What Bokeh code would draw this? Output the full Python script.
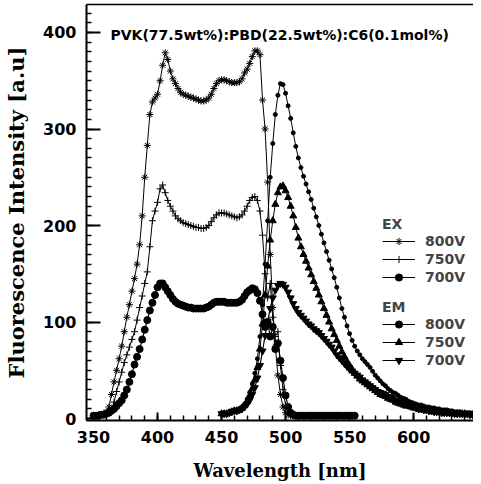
from bokeh.plotting import figure
from bokeh.models import (Range1d, Legend, LegendItem, Label, LinearAxis,
                          FixedTicker, SingleIntervalTicker)
from bokeh.embed import file_html
from bokeh.resources import INLINE

# ---------------- data ----------------
ex_wl = list(range(350, 511, 2))
ex_800 = [3, 3, 4, 4, 5, 7, 12, 25, 38, 50,
          62, 75, 90, 105, 118, 132, 145, 160, 180, 210,
          250, 283, 315, 328, 332, 336, 350, 366, 379, 372,
          360, 352, 347, 342, 338, 336, 335, 334, 333, 332,
          331, 330, 329, 329, 330, 332, 336, 342, 347, 350,
          351, 351, 350, 349, 348, 348, 348, 349, 352, 358,
          362, 368, 375, 381, 381, 377, 330, 300, 245, 170,
          115, 75, 45, 25, 12, 6, 4, 3, 3, 3,
          3]

ex750_wl = list(range(350, 507, 2))
ex_750 = [3, 3, 3, 4, 4, 5, 7, 10, 17, 28,
          38, 48, 58, 66, 74, 82, 90, 102, 115, 127,
          140, 152, 178, 205, 215, 224, 238, 242, 234, 226,
          220, 215, 210, 207, 205, 203, 202, 201, 200, 199,
          198, 198, 197, 197, 198, 200, 204, 208, 211, 213,
          213, 213, 212, 211, 210, 209, 208, 209, 211, 215,
          220, 226, 229, 230, 226, 215, 190, 150, 125, 140,
          105, 85, 90, 55, 30, 14, 7, 4, 3]

ex700_wl = list(range(350, 555, 2))
ex_700 = [3, 3, 3, 4, 4, 5, 6, 8, 10, 13,
          16, 19, 24, 30, 38, 46, 56, 64, 72, 82,
          92, 102, 112, 120, 128, 136, 140, 140, 136, 132,
          128, 124, 121, 119, 118, 117, 116, 115, 115, 114,
          114, 114, 114, 114, 115, 116, 118, 120, 121, 121,
          121, 121, 120, 120, 120, 120, 120, 121, 123, 127,
          131, 133, 135, 134, 130, 122, 108, 95, 100, 85,
          95, 72, 78, 60, 42, 24, 12, 6, 4, 3,
          3, 3, 3, 3, 3, 3, 3, 3, 3, 3,
          3, 3, 3, 3, 3, 3, 3, 3, 3, 3,
          3, 3, 3]

em_wl = list(range(450, 651, 2))
em_800 = [5, 5, 5, 6, 7, 9, 9, 10, 12, 15,
          20, 27, 36, 47, 62, 85, 118, 160, 205, 250,
          285, 315, 335, 347, 346, 337, 324, 311, 296, 282,
          270, 260, 251, 243, 235, 227, 218, 209, 200, 191,
          182, 173, 164, 155, 146, 136, 125, 114, 105, 96,
          88, 81, 75, 70, 66, 62, 59, 56, 53, 49,
          45, 42, 39, 36, 34, 31, 29, 27, 26, 24,
          22, 21, 20, 18, 17, 16, 15, 14, 14, 13,
          12, 12, 11, 11, 10, 10, 9, 9, 9, 8,
          8, 7, 7, 7, 6, 6, 6, 6, 5, 5,
          5]
em_750 = [5, 5, 5, 6, 7, 8, 8, 9, 11, 14,
          18, 24, 31, 40, 53, 72, 98, 128, 158, 185,
          205, 222, 234, 240, 241, 236, 229, 220, 210, 198,
          187, 178, 170, 163, 156, 149, 142, 135, 128, 121,
          114, 107, 100, 93, 87, 81, 75, 69, 64, 59,
          55, 51, 47, 44, 41, 39, 37, 35, 33, 31,
          29, 27, 25, 24, 23, 21, 20, 19, 17, 16,
          15, 14, 13, 13, 12, 11, 11, 10, 10, 9,
          9, 8, 8, 7, 7, 7, 6, 6, 6, 6,
          5, 5, 5, 5, 5, 5, 4, 4, 4, 4,
          4]
em_700 = [5, 5, 5, 6, 7, 8, 8, 9, 10, 12,
          15, 19, 25, 32, 42, 55, 70, 86, 101, 114,
          125, 133, 138, 140, 139, 136, 131, 125, 119, 114,
          110, 107, 104, 101, 98, 96, 93, 91, 89, 86,
          83, 80, 77, 74, 70, 66, 63, 60, 57, 54,
          51, 49, 47, 45, 43, 40, 38, 36, 34, 32,
          30, 28, 27, 26, 25, 23, 22, 21, 19, 18,
          17, 16, 15, 14, 13, 12, 11, 10, 10, 9,
          9, 8, 8, 7, 7, 7, 6, 6, 6, 6,
          6, 5, 5, 5, 5, 5, 5, 4, 4, 4,
          4]

x_ticks_interval = 50
y_ticks_interval = 100
title_text = "PVK(77.5wt%):PBD(22.5wt%):C6(0.1mol%)"
x_label = "Wavelength [nm]"
y_label = "Fluorescence Intensity [a.u]"
voltage_labels = ["800V", "750V", "700V"]

# ---------------- figure ----------------
p = figure(width=473, height=483, output_backend="svg", toolbar_location=None,
           x_range=Range1d(344.5, 646.8), y_range=Range1d(-2, 429),
           min_border_left=86, min_border_right=0, min_border_top=4,
           min_border_bottom=0)
p.outline_line_color = None
p.grid.visible = False
p.background_fill_color = "white"

LBL_FONT = "DejaVu Sans"
AX_FONT = "DejaVu Serif"

for ax in (p.xaxis[0], p.yaxis[0]):
    ax.axis_line_width = 2
    ax.axis_line_color = "black"
    ax.major_tick_out = 0
    ax.minor_tick_out = 0
    ax.major_tick_line_width = 2
    ax.minor_tick_line_width = 1.5
    ax.major_label_text_font = LBL_FONT
    ax.major_label_text_font_style = "bold"
    ax.major_label_text_font_size = "16px"
    ax.major_label_text_color = "black"
    ax.axis_label_text_font = AX_FONT
    ax.axis_label_text_font_style = "bold"
    ax.axis_label_text_color = "black"

p.xaxis.axis_label_text_font_size = "18px"
p.yaxis.axis_label_text_font_size = "21px"
p.xaxis.ticker = SingleIntervalTicker(interval=x_ticks_interval, num_minor_ticks=5)
p.yaxis.ticker = SingleIntervalTicker(interval=y_ticks_interval, num_minor_ticks=10)
p.xaxis.major_tick_in = 8
p.xaxis.minor_tick_in = 5
p.yaxis.major_tick_in = 14
p.yaxis.minor_tick_in = 5
p.xaxis.axis_label = x_label
p.yaxis.axis_label = y_label
p.xaxis.major_label_standoff = 10
p.xaxis.axis_label_standoff = 14
p.yaxis.major_label_standoff = 10
p.yaxis.axis_label_standoff = 11

top_axis = LinearAxis(ticker=FixedTicker(ticks=[]), axis_line_width=1.5,
                      major_label_text_font_size="0px", major_label_standoff=0,
                      major_tick_in=0, major_tick_out=0, minor_tick_in=0,
                      minor_tick_out=0)
p.add_layout(top_axis, "above")

# ---------------- series ----------------
# (group, x, y, marker, size on curve, line width)
series = [
    ("ex", ex_wl, ex_800, "asterisk", 7, 1.0),
    ("ex", ex750_wl, ex_750, "cross", 7, 1.0),
    ("ex", ex700_wl, ex_700, "circle", 7, 1.2),
    ("em", em_wl, em_800, "circle", 4, 1.0),
    ("em", em_wl, em_750, "triangle", 7, 1.0),
    ("em", em_wl, em_700, "inverted_triangle", 7, 1.2),
]

ex_items, em_items = [], []
for i, (grp, xs, ys, mk, sz, lw) in enumerate(series):
    ln = p.line(xs, ys, line_color="black", line_width=lw)
    sc = p.scatter(xs, ys, marker=mk, size=sz, line_color="black",
                   fill_color="black", line_width=1)
    item = LegendItem(label=voltage_labels[i % 3], renderers=[ln, sc])
    (ex_items if grp == "ex" else em_items).append(item)


def make_legend(items, title, loc):
    return Legend(items=items, title=title, location=loc,
                  border_line_color=None, background_fill_alpha=0,
                  padding=0, margin=0, spacing=0,
                  glyph_width=33, glyph_height=18, label_height=14,
                  label_standoff=10,
                  label_text_font=LBL_FONT, label_text_font_style="bold",
                  label_text_font_size="14px",
                  title_text_font=LBL_FONT, title_text_font_style="bold",
                  title_text_font_size="14px", title_standoff=0)

p.add_layout(make_legend(ex_items, "EX", (296, 134)))
p.add_layout(make_legend(em_items, "EM", (296, 51)))

p.add_layout(Label(x=24, y=386, x_units="screen", y_units="screen",
                   text=title_text, text_font=LBL_FONT, text_font_style="bold",
                   text_font_size="14px", text_baseline="middle",
                   text_color="black"))

open("out.html", "w").write(file_html(p, INLINE))
